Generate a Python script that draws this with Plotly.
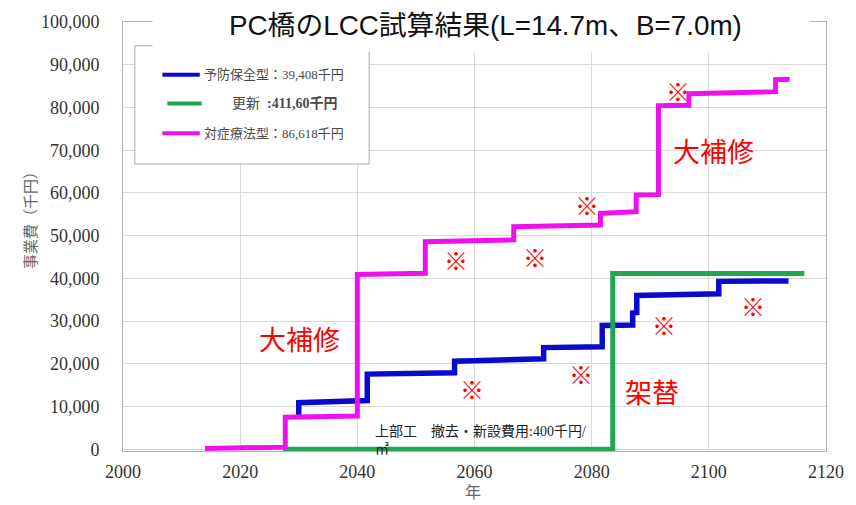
import plotly.graph_objects as go

# ---- data: cumulative project cost (千円) by year ----
prev_years = [2030.0, 2030.0, 2041.7, 2041.7, 2056.6, 2056.6, 2071.8, 2071.8, 2081.8, 2081.8,
              2087.0, 2087.0, 2087.7, 2087.7, 2101.7, 2101.7, 2113.6]
prev_cost = [7500, 10900, 11400, 17600, 17900, 20600, 21200, 23800, 24000, 29000,
             29100, 31900, 32000, 36000, 36400, 39300, 39408]

renew_years = [2027.3, 2083.6, 2083.6, 2116.3]
renew_cost = [0, 0, 41160, 41160]

corr_years = [2014.0, 2027.7, 2027.7, 2040.0, 2040.0, 2051.6, 2051.6, 2066.7, 2066.7, 2081.5,
              2081.5, 2087.6, 2087.6, 2091.4, 2091.4, 2096.6, 2096.6, 2111.4, 2111.4, 2113.8]
corr_cost = [200, 500, 7500, 7800, 40900, 41200, 48600, 49000, 52100, 52500,
             55200, 55600, 59500, 59600, 80400, 80500, 83200, 83700, 86500, 86618]

series_names = ["予防保全型", "更新", "対症療法型"]
legend_texts = ["予防保全型：39,408千円", "更新  <b>:411,60千円</b>", "対症療法型：86,618千円"]
colors = ["#0a0acc", "#1fa651", "#ee11ee"]

y_ticks = list(range(0, 100001, 10000))
x_ticks = list(range(2000, 2121, 20))

title_text = "PC橋のLCC試算結果(L=14.7m、B=7.0m)"
y_title = "事業費（千円）"
x_title = "年"
note_text = "上部工　撤去・新設費用:400千円/<br>㎡"

# ---- layout geometry ----
W, H = 856, 505
ML, MR, MT, MB = 123, 19, 19, 54
PW, PH = W - ML - MR, H - MT - MB


def px(x):
    return (x - ML) / PW


def py(y):
    return (H - MB - y) / PH


fig = go.Figure()
for xs, ys, name, col, wd in [
    (prev_years, prev_cost, series_names[0], colors[0], 5.5),
    (renew_years, renew_cost, series_names[1], colors[1], 5),
    (corr_years, corr_cost, series_names[2], colors[2], 5),
]:
    fig.add_trace(go.Scatter(x=xs, y=ys, name=name, mode="lines",
                             line=dict(color=col, width=wd), showlegend=False))

serif = "Liberation Serif, Noto Sans CJK JP"
sans = "Liberation Sans, Noto Sans CJK JP"

shapes = []
annotations = []

# legend box
shapes.append(dict(type="rect", xref="paper", yref="paper",
                   x0=px(135), x1=px(373), y0=py(162), y1=py(43),
                   fillcolor="white", line=dict(color="#a8a8a8", width=1), layer="above"))
# title backdrop
shapes.append(dict(type="rect", xref="paper", yref="paper",
                   x0=px(153), x1=px(821), y0=py(49), y1=py(0),
                   fillcolor="white", line=dict(width=0), layer="above"))

# legend samples and labels
for (x0, x1, yy, tx, fs), col, txt in zip(
        [(163, 201, 72, 203, 13), (168, 203, 101, 232, 14), (163, 201, 131, 203, 13)],
        colors, legend_texts):
    shapes.append(dict(type="line", xref="paper", yref="paper",
                       x0=px(x0), x1=px(x1), y0=py(yy), y1=py(yy),
                       line=dict(color=col, width=4), layer="above"))
    annotations.append(dict(xref="paper", yref="paper", x=px(tx), y=py(yy),
                            xanchor="left", yanchor="middle", showarrow=False, text=txt,
                            font=dict(family=serif, size=fs, color="#4a4a4a")))

# title
annotations.append(dict(xref="paper", yref="paper", x=px(491), y=py(23),
                        xanchor="center", yanchor="middle", showarrow=False, text=title_text,
                        font=dict(family=sans, size=27.8, color="#111111")))

# axis titles
annotations.append(dict(xref="paper", yref="paper", x=px(29), y=py(215), textangle=-90,
                        xanchor="center", yanchor="middle", showarrow=False, text=y_title,
                        font=dict(family=serif, size=15, color="#666666")))
annotations.append(dict(xref="paper", yref="paper", x=px(478), y=py(493),
                        xanchor="center", yanchor="middle", showarrow=False, text=x_title,
                        font=dict(family=serif, size=16, color="#666666")))

# red call-outs on the chart
marks = [(2056.8, 44400), (2070.4, 45100), (2079.2, 57400), (2094.8, 84000),
         (2059.5, 14200), (2078.2, 17700), (2092.4, 29100), (2107.6, 33700)]
for mx, my in marks:
    annotations.append(dict(x=mx, y=my, text="※", showarrow=False,
                            font=dict(family="Noto Sans CJK JP", size=24, color="#ff0000")))
for lx, ly, txt, sz in [(2030.1, 26000, "大補修", 27), (2100.8, 70000, "大補修", 27),
                        (2090.3, 13500, "架替", 27)]:
    annotations.append(dict(x=lx, y=ly, text=txt, showarrow=False,
                            font=dict(family="Noto Sans CJK JP", size=sz, color="#ff0000")))

annotations.append(dict(x=2042.6, y=6300, text=note_text, showarrow=False, align="left",
                        xanchor="left", yanchor="top",
                        font=dict(family=serif, size=14, color="#222222")))

fig.update_layout(
    width=W, height=H,
    margin=dict(l=ML, r=MR, t=MT, b=MB, pad=0),
    paper_bgcolor="white", plot_bgcolor="white",
    shapes=shapes, annotations=annotations,
    xaxis=dict(range=[2000, 2120], tickvals=x_ticks, ticktext=[str(v) for v in x_ticks],
               showgrid=True, gridcolor="#d9d9d9", gridwidth=1,
               showline=True, linecolor="#b4b4b4", linewidth=1, mirror=True,
               zeroline=False, ticks="", ticklabelstandoff=4,
               tickfont=dict(family="Liberation Serif", size=18, color="#333333")),
    yaxis=dict(range=[-400, 100000], tickvals=y_ticks, ticktext=[f"{v:,}" for v in y_ticks],
               showgrid=True, gridcolor="#d9d9d9", gridwidth=1,
               showline=True, linecolor="#b4b4b4", linewidth=1, mirror=True,
               zeroline=False, ticks="", ticklabelstandoff=19,
               tickfont=dict(family="Liberation Serif", size=18, color="#333333")),
)

fig.write_html("out.html")
